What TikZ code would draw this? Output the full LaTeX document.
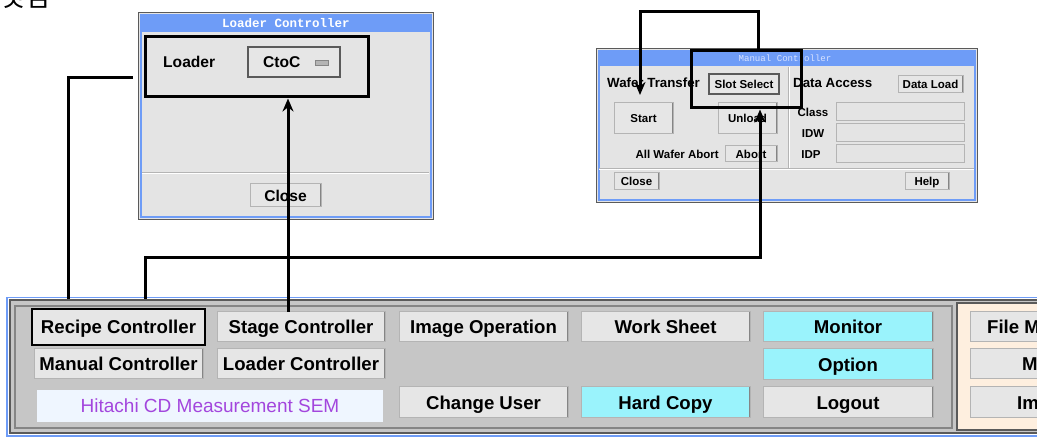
\documentclass[tikz,border=0pt]{standalone}
\usepackage{fontspec}
\setmainfont{Liberation Sans}
\newfontfamily\monofont{Liberation Mono}
\newfontfamily\krfont{Noto Sans CJK KR}
\usetikzlibrary{arrows.meta}
\definecolor{titleblue}{HTML}{6E9CF7}
\definecolor{winedge}{HTML}{5A5A5A}
\definecolor{wingray}{HTML}{E4E4E4}
\definecolor{btngray}{HTML}{E6E6E6}
\definecolor{btnlight}{HTML}{B4B4B4}
\definecolor{btndark}{HTML}{858585}
\definecolor{cyanbtn}{HTML}{9AF3FC}
\definecolor{panelgray}{HTML}{C6C6C6}
\definecolor{beige}{HTML}{FEEFDF}
\definecolor{fieldwhite}{HTML}{EFF6FF}
\definecolor{semtext}{HTML}{A346DD}
\definecolor{titletext}{HTML}{D8E2FF}
\begin{document}
\begin{tikzpicture}[x=1pt, y=-1pt, >=Stealth,
	btn/.style={draw=btnlight, line width=1, fill=btngray, inner sep=0, outer sep=0,
		font=\bfseries\fontsize{18.6}{20}\selectfont, text height=13.4, text depth=0,
		path picture={\draw[btndark, line width=2.5] (path picture bounding box.south west) -- (path picture bounding box.south east) -- (path picture bounding box.north east);}},
	cbtn/.style={btn, fill=cyanbtn},
	sbtn/.style={btn, font=\bfseries\fontsize{11.5}{12}\selectfont, text height=8.3},
	lfont/.style={font=\bfseries\fontsize{15.6}{16}\selectfont},
	hfont/.style={font=\bfseries\fontsize{13.3}{14}\selectfont},
	sfont/.style={font=\bfseries\fontsize{11.5}{12}\selectfont, text height=8.3, text depth=0},
	field/.style={draw=btnlight, line width=1, fill=wingray, inner sep=0},
	hilite/.style={draw=black, line width=3, inner sep=0},
	wire/.style={line width=3},
	tip/.style={-{Stealth[length=13, width=11]}}]
	\useasboundingbox (0,0) rectangle (1037,438);
	\clip (0,0) rectangle (1037,438);
	\node[font=\krfont\fontsize{27}{27}\selectfont, anchor=base west, inner sep=0] (cut) at (0,7) {것임};
	% loader controller window
	\draw[winedge, line width=1, fill=wingray] (138,13) rectangle (433,220);
	\draw[titleblue, line width=2] (140.5,15.5) rectangle (430.5,217.5);
	\fill[titleblue] (140,15) rectangle (431,32);
	\node[font=\monofont\bfseries\fontsize{12.5}{13}\selectfont, text=white] (ltitle) at (286,23) {Loader Controller};
	\draw[btnlight] (142,172) -- (429,172);
	\draw[white] (142,173.5) -- (429,173.5);
	\node[anchor=west, lfont, inner sep=0] (loader) at (163,62) {Loader};
	\node[btn, draw=winedge, line width=1.5, minimum width=92, minimum height=30] (ctoc) at (294,62) {};
	\node[anchor=west, lfont, inner sep=0] (ctoctext) at (263,62) {CtoC};
	\draw[btndark, fill=btnlight] (315,60) rectangle (328,65);
	\node[btn, lfont, text height=11.2, minimum width=71, minimum height=23] (lclose) at (285.5,195.5) {Close};
	\node[hilite, minimum width=223, minimum height=60] (lbox) at (256.5,67) {};
	% manual controller window
	\draw[winedge, line width=1, fill=wingray] (596,49) rectangle (977,203);
	\draw[titleblue, line width=2] (598.5,51.5) rectangle (974.5,200.5);
	\fill[titleblue] (598,51) rectangle (975,66);
	\node[font=\monofont\fontsize{9.1}{10}\selectfont, text=titletext] (mtitle) at (785,58) {Manual Controller};
	\draw[btnlight] (788,67) -- (788,168) (599,168) -- (974,168);
	\draw[white] (789.5,67) -- (789.5,168) (599,169.5) -- (974,169.5);
	\node[anchor=west, hfont, inner sep=0] (wafer) at (607,83) {Wafer Transfer};
	\node[sbtn, draw=winedge, line width=1.5, minimum width=70, minimum height=20] (slot) at (744,84) {Slot Select};
	\node[anchor=west, hfont, inner sep=0] (access) at (793,83) {Data Access};
	\node[sbtn, minimum width=65, minimum height=17] (dload) at (930.5,84.5) {Data Load};
	\node[sbtn, minimum width=59, minimum height=31] (start) at (643.5,118.5) {Start};
	\node[sbtn, minimum width=59, minimum height=31] (unload) at (747.5,118.5) {Unload};
	\node[anchor=east, sfont, inner sep=0] (allabort) at (719,154) {All Wafer Abort};
	\node[sbtn, minimum width=52, minimum height=16] (abort) at (751,154) {Abort};
	\node[sfont] (class) at (813,112) {Class};
	\node[sfont] (idw) at (813,133) {IDW};
	\node[sfont] (idp) at (811,154) {IDP};
	\node[field, minimum width=128, minimum height=18] (fclass) at (900,112) {};
	\node[field, minimum width=128, minimum height=18] (fidw) at (900,133) {};
	\node[field, minimum width=128, minimum height=18] (fidp) at (900,154) {};
	\node[sbtn, minimum width=45, minimum height=17] (mclose) at (636.5,181.5) {Close};
	\node[sbtn, minimum width=44, minimum height=17] (help) at (927,181.5) {Help};
	\node[hilite, minimum width=110, minimum height=57] (sbox) at (746,79.5) {};
	% main panel
	\draw[titleblue, line width=1.5] (7,297.5) rectangle (1045,436);
	\draw[winedge, line width=2, fill=panelgray] (10,300) rectangle (1045,433);
	\draw[btndark, line width=1.2] (15,306) rectangle (952,428);
	\draw[winedge, line width=2, fill=beige] (957,303) rectangle (1045,430);
	\node[btn, draw=black, line width=2.5, minimum width=173, minimum height=36] (recipe) at (118.5,327) {Recipe Controller};
	\node[btn, minimum width=168, minimum height=30] (stage) at (301,327) {Stage Controller};
	\node[btn, minimum width=169, minimum height=30] (imageop) at (483.5,327) {Image Operation};
	\node[btn, minimum width=169, minimum height=30] (sheet) at (665.5,327) {Work Sheet};
	\node[cbtn, minimum width=170, minimum height=30] (monitor) at (848,327) {Monitor};
	\node[btn, minimum width=169, minimum height=30] (manual) at (118.5,364) {Manual Controller};
	\node[btn, minimum width=168, minimum height=30] (loaderc) at (301,364) {Loader Controller};
	\node[cbtn, minimum width=170, minimum height=31] (option) at (848,364.5) {Option};
	\node[fill=fieldwhite, minimum width=346, minimum height=32, inner sep=0, font=\fontsize{19}{20}\selectfont, text height=13.7, text depth=0, text=semtext] (hitachi) at (210,406) {Hitachi CD Measurement SEM};
	\node[btn, minimum width=169, minimum height=31] (user) at (483.5,402.5) {Change User};
	\node[cbtn, minimum width=169, minimum height=31] (copy) at (665.5,402.5) {Hard Copy};
	\node[btn, minimum width=170, minimum height=31] (logout) at (848,402.5) {Logout};
	\node[btn, anchor=west, minimum width=120, minimum height=30] (filem) at (970,327) {};
	\node[btn, anchor=west, minimum width=120, minimum height=30] (macro) at (970,364) {};
	\node[btn, anchor=west, minimum width=120, minimum height=31] (imagef) at (970,402.5) {};
	\node[anchor=west, inner sep=0, font=\bfseries\fontsize{18.6}{20}\selectfont, text height=13.4, text depth=0] (filemtext) at (987,327) {File M};
	\node[anchor=west, inner sep=0, font=\bfseries\fontsize{18.6}{20}\selectfont, text height=13.4, text depth=0] (macrotext) at (1022,364) {M};
	\node[anchor=west, inner sep=0, font=\bfseries\fontsize{18.6}{20}\selectfont, text height=13.4, text depth=0] (imagetext) at (1017,402.5) {Im};
	% connectors
	\coordinate (r1) at (68,299);
	\coordinate (r2) at (145,299);
	\coordinate (lin) at (133,78);
	\coordinate (wafertip) at (640,95);
	\draw[wire] (r1) |- (lin);
	\draw[wire, tip] ([xshift=-13]stage.north) -- ([xshift=-13]stage.north |- lbox.south);
	\draw[wire, tip] (r2) -- ++(0,-41) -| ([xshift=14]sbox.south);
	\draw[wire, tip] ([xshift=12]sbox.north) -- ++(0,-38) -| (wafertip);
\end{tikzpicture}
\end{document}
